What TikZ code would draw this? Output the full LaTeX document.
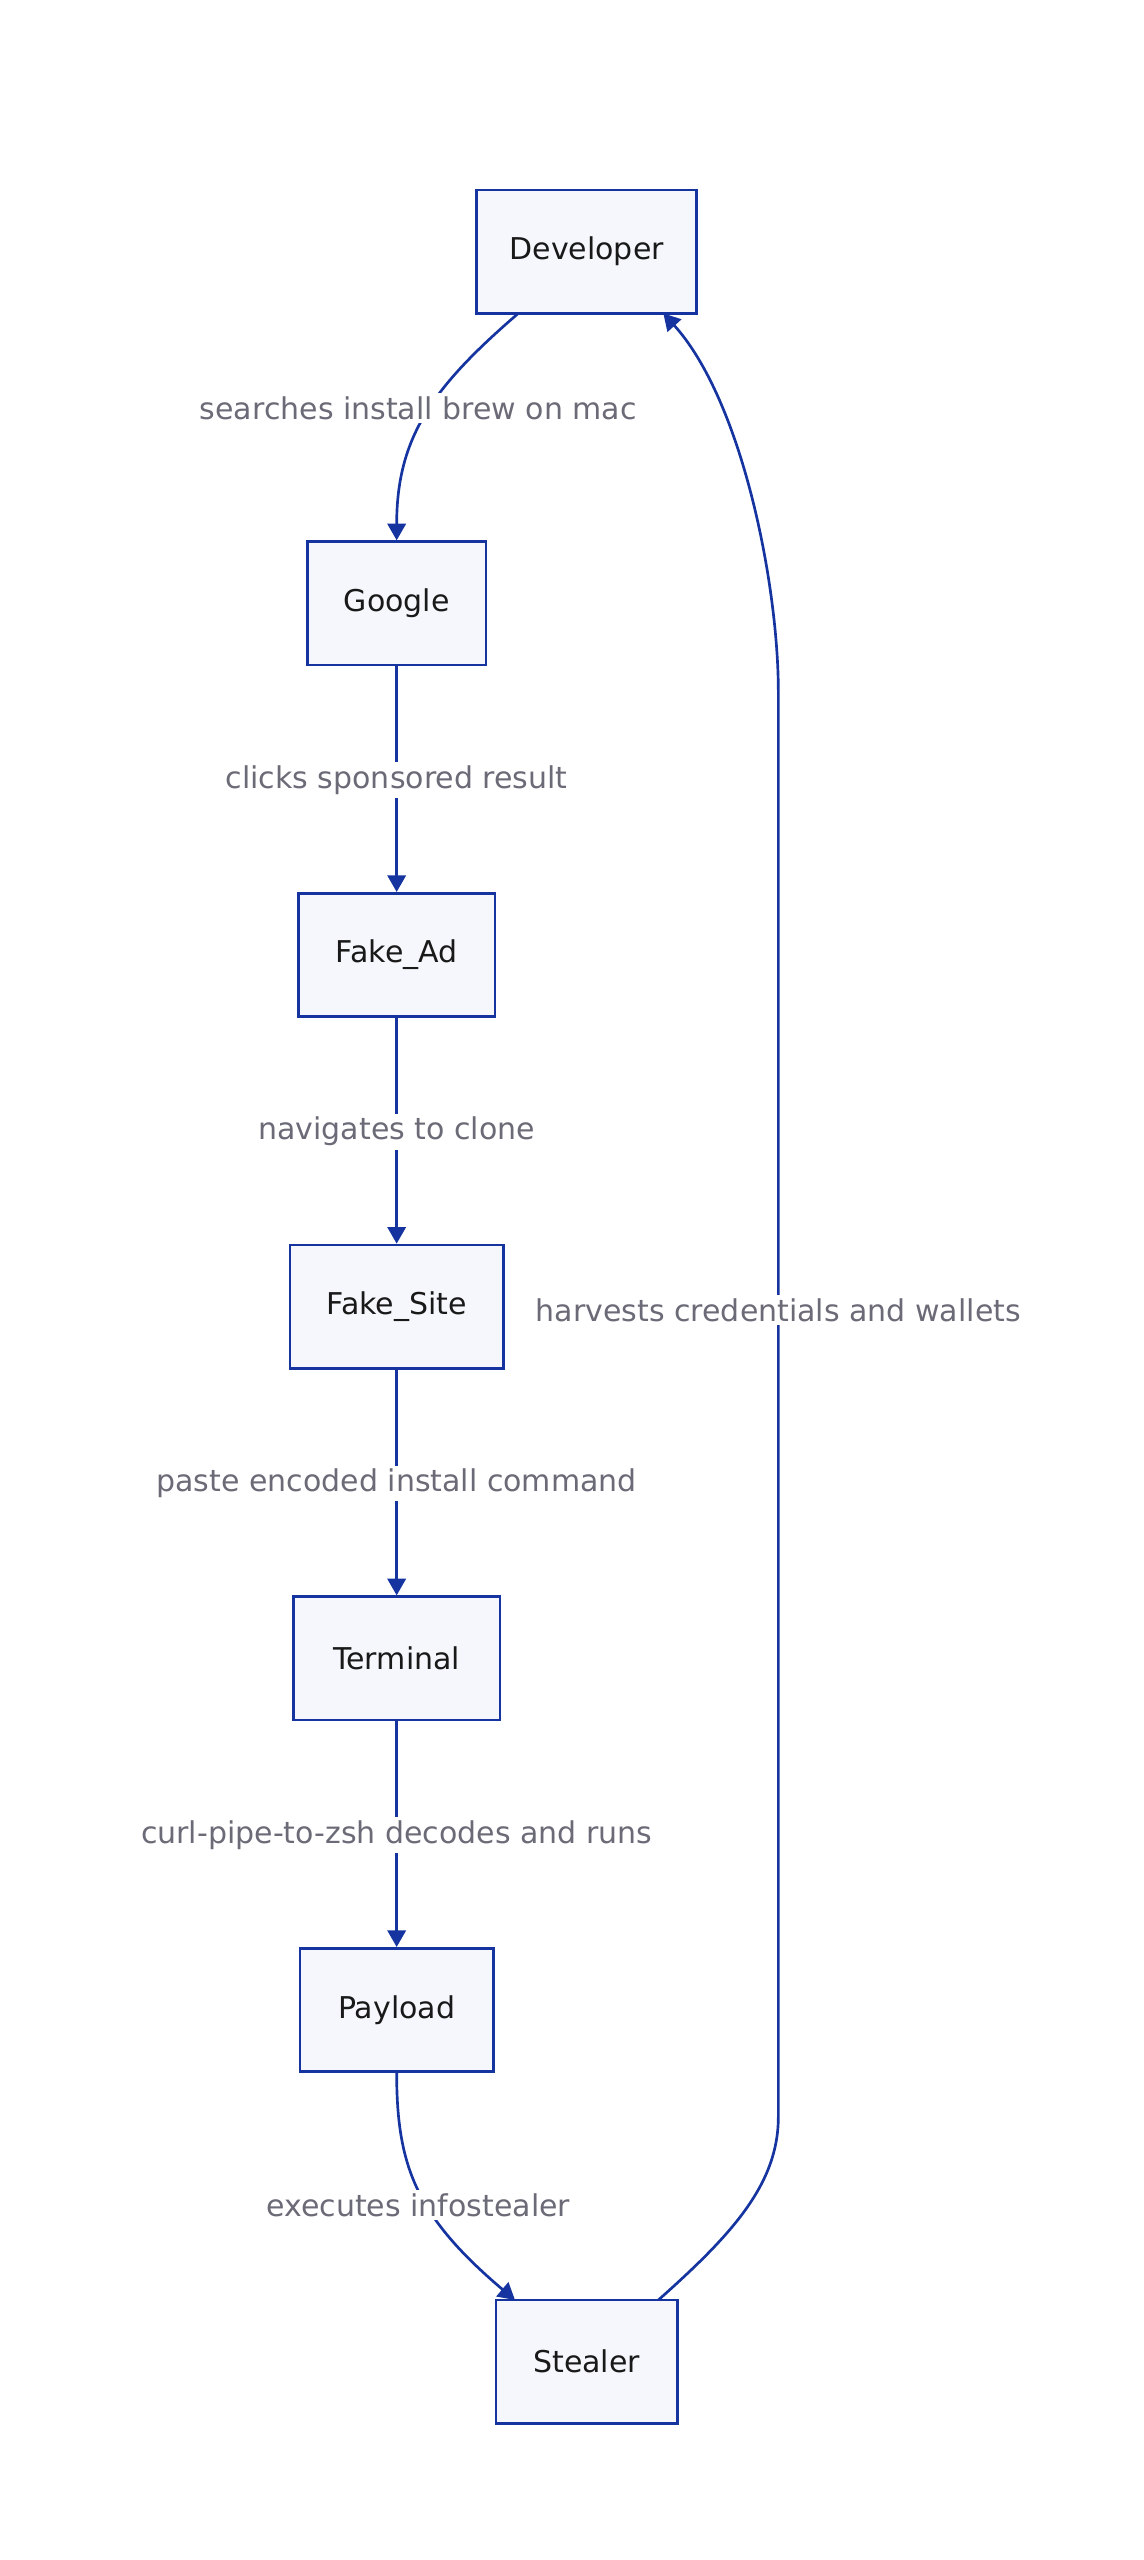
\documentclass[tikz,border=0pt]{standalone}
\usepackage{fontspec}
\setmainfont{DejaVu Sans}
\usetikzlibrary{arrows.meta}
\definecolor{edge}{HTML}{1534A0}
\definecolor{boxfill}{HTML}{F5F7FC}
\definecolor{lbl}{HTML}{6B6B78}
\begin{document}
\begin{tikzpicture}[x=1pt,y=-1pt,
  box/.style={draw=edge,fill=boxfill,line width=1.6pt,minimum height=74pt,inner sep=0pt,font=\fontsize{18}{21}\selectfont,text=black!90},
  lab/.style={fill=white,text=lbl,inner sep=2pt,font=\fontsize{18}{21}\selectfont},
  conn/.style={draw=edge,line width=1.6pt,-{Triangle[length=10pt,width=11pt]}}]
\useasboundingbox (0,0) rectangle (686,1536);
\node[box,minimum width=132pt] (dev) at (352,151) {Developer};
\node[box,minimum width=107pt] (goo) at (238,362) {Google};
\node[box,minimum width=118pt] (ad) at (238,573) {Fake\_Ad};
\node[box,minimum width=128pt] (site) at (238,784) {Fake\_Site};
\node[box,minimum width=124pt] (term) at (238,995) {Terminal};
\node[box,minimum width=116pt] (pay) at (238,1206) {Payload};
\node[box,minimum width=109pt] (st) at (352,1417) {Stealer};
\coordinate (d1) at (311,188);
\coordinate (d2) at (398,188);
\coordinate (s1) at (395,1380);
\coordinate (s2) at (309,1380);
\draw[conn] (d1) .. controls (260,232) and (238,262) .. (goo.north);
\draw[conn] (goo) -- (ad);
\draw[conn] (ad) -- (site);
\draw[conn] (site) -- (term);
\draw[conn] (term) -- (pay);
\draw[conn] (pay.south) .. controls (238,1300) and (250,1330) .. (s2);
\draw[conn] (s1) .. controls (440,1340) and (467,1310) .. (467,1270) -- (467,415) .. controls (467,350) and (445,240) .. (d2);
\node[lab] (l1) at (251,245) {searches install brew on mac};
\node[lab] (l2) at (238,468) {clicks sponsored result};
\node[lab] (l3) at (238,679) {navigates to clone};
\node[lab] (l4) at (467,786) {harvests credentials and wallets};
\node[lab] (l5) at (238,890) {paste encoded install command};
\node[lab] (l6) at (238,1101) {curl-pipe-to-zsh decodes and runs};
\node[lab] (l7) at (251,1323) {executes infostealer};
\end{tikzpicture}
\end{document}
